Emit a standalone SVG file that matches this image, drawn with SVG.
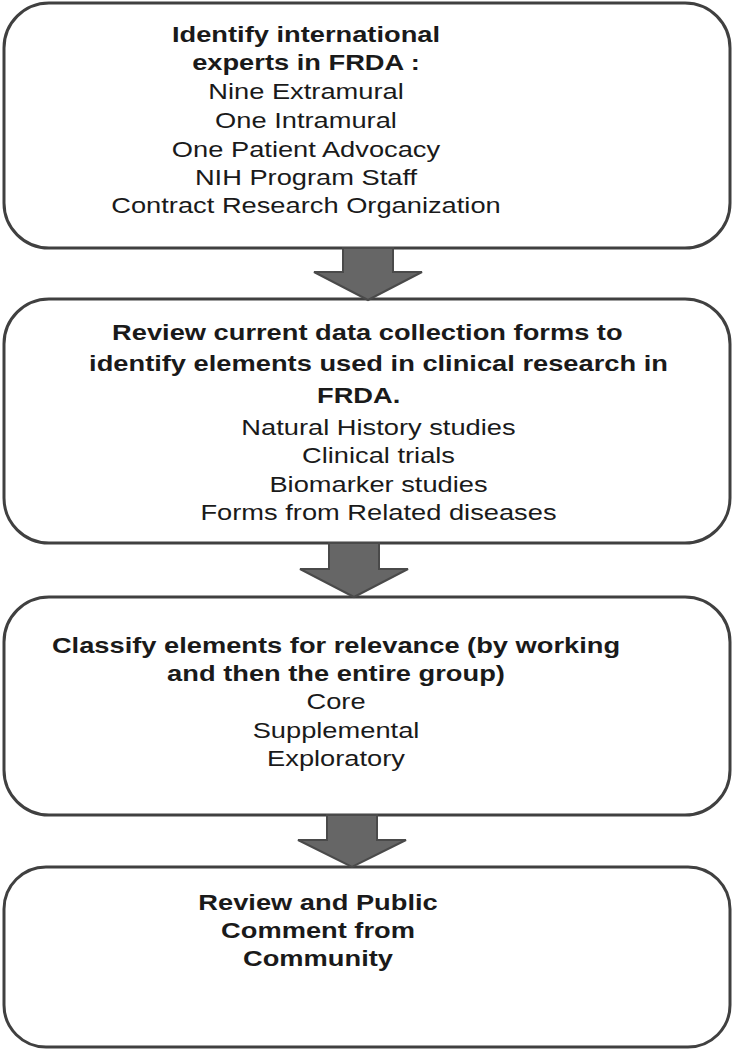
<svg xmlns="http://www.w3.org/2000/svg" width="735" height="1050" viewBox="0 0 735 1050">
<style>
.box{fill:#fff;stroke:#404040;stroke-width:3}
.arr{fill:#666;stroke:#4a4a4a;stroke-width:2;stroke-linejoin:miter}
text{font-family:"Liberation Sans",Arial,sans-serif;font-size:22px;fill:#1a1a1a;text-anchor:middle}
.b{font-weight:bold}
</style>
<rect width="735" height="1050" fill="#fff"/>
<g id="node1">
<rect class="box" x="4" y="3" width="726" height="245" rx="45"/>
<g transform="translate(306,0) scale(1.24,1)">
<text class="b" x="0" y="42">Identify international</text>
<text class="b" x="0" y="70">experts in FRDA :</text>
<text x="0" y="99">Nine Extramural</text>
<text x="0" y="128">One Intramural</text>
<text x="0" y="157">One Patient Advocacy</text>
<text x="0" y="185">NIH Program Staff</text>
<text x="0" y="213">Contract Research Organization</text>
</g>
</g>
<g id="node2">
<rect class="box" x="4" y="299" width="726" height="244" rx="45"/>
<g transform="translate(376,0) scale(1.24,1)">
<text class="b" x="-7" y="340">Review current data collection forms to</text>
<text class="b" x="2" y="371">identify elements used in clinical research in</text>
<text class="b" x="-14" y="403">FRDA.</text>
<text x="2" y="435">Natural History studies</text>
<text x="2" y="463">Clinical trials</text>
<text x="2" y="492">Biomarker studies</text>
<text x="2" y="520">Forms from Related diseases</text>
</g>
</g>
<g id="node3">
<rect class="box" x="4" y="597" width="726" height="218" rx="45"/>
<g transform="translate(336,0) scale(1.24,1)">
<text class="b" x="0" y="653">Classify elements for relevance (by working</text>
<text class="b" x="0" y="681">and then the entire group)</text>
<text x="0" y="709">Core</text>
<text x="0" y="738">Supplemental</text>
<text x="0" y="766">Exploratory</text>
</g>
</g>
<g id="node4">
<rect class="box" x="4" y="867" width="726" height="180" rx="42"/>
<g transform="translate(318,0) scale(1.24,1)">
<text class="b" x="0" y="910">Review and Public</text>
<text class="b" x="0" y="938">Comment from</text>
<text class="b" x="0" y="966">Community</text>
</g>
</g>
<g id="connectors">
<path class="arr" d="M343,248 L393,248 L393,272 L422,272 L368,300 L314,272 L343,272 Z"/>
<path class="arr" d="M329,543 L379,543 L379,569 L408,569 L354,597 L300,569 L329,569 Z"/>
<path class="arr" d="M327,815 L377,815 L377,840 L406,840 L352,867 L298,840 L327,840 Z"/>
</g>
</svg>
